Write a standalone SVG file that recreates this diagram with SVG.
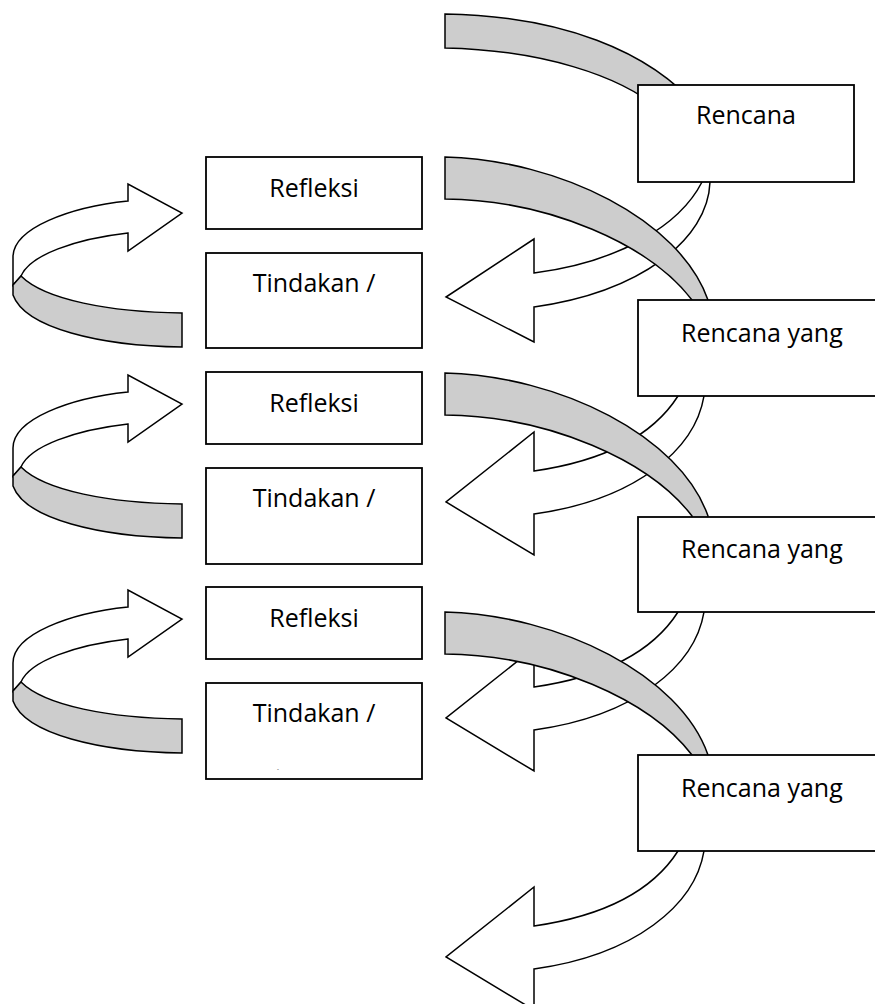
<svg xmlns="http://www.w3.org/2000/svg" width="875" height="1004" viewBox="0 0 875 1004">
<style>
.box{fill:#fff;stroke:#000;stroke-width:1.8}
.band{fill:#cdcdcd;stroke:#000;stroke-width:1.5}
.arr{fill:#fff;stroke:#000;stroke-width:1.5}
text{font-family:"Open Sans","Liberation Sans",sans-serif;font-size:25px;fill:#000}
</style>
<defs>
<g id="loop">
 <path class="arr" d="M128,201 C70,207 13,228 13,257 L13,285 L21,276 C30,255 75,239 128,233 L128,251 L182,213 L128,184 Z"/>
 <path class="band" d="M21,276 C45,300 110,312 182,313 L182,347 C100,346 25,328 13,295 L13,285 Z"/>
</g>
<g id="cyc">
 <path class="arr" d="M678,396 C655,432 610,460 534,471 L534,432 L446,502 L534,555 L534,514 C635,500 695,450 704,396 L706,380 L680,380 Z"/>
 <path class="band" d="M445,157 C560,160 680,220 708,300 L712,330 L696,330 L692,300 C650,245 550,200 445,199 Z"/>
</g>
</defs>
<g id="connectors">
 <use href="#loop"/>
 <use href="#loop" transform="translate(0,191)"/>
 <use href="#loop" transform="translate(0,406)"/>
 <g id="cycle-a">
  <path class="band" d="M445,14 C560,16 650,50 700,110 L660,110 C620,75 540,50 445,48 Z"/>
  <path class="arr" d="M702,182 C680,225 620,262 534,273 L534,239 L446,297 L534,342 L534,307 C640,292 708,240 710,182 L710,170 L702,170 Z"/>
 </g>
 <use href="#cyc"/>
 <use href="#cyc" transform="translate(0,216)"/>
 <use href="#cyc" transform="translate(0,455)"/>
</g>
<g id="rencana">
 <rect class="box" x="638" y="85" width="216" height="97"/>
 <text x="746" y="124" text-anchor="middle">Rencana</text>
</g>
<g id="rencana-yang-1">
 <rect class="box" x="638" y="300" width="250" height="96"/>
 <text x="681" y="342">Rencana yang</text>
</g>
<g id="rencana-yang-2">
 <rect class="box" x="638" y="517" width="250" height="95"/>
 <text x="681" y="558">Rencana yang</text>
</g>
<g id="rencana-yang-3">
 <rect class="box" x="638" y="755" width="250" height="96"/>
 <text x="681" y="797">Rencana yang</text>
</g>
<g id="refleksi-1">
 <rect class="box" x="206" y="157" width="216" height="72"/>
 <text x="314" y="197" text-anchor="middle">Refleksi</text>
</g>
<g id="tindakan-1">
 <rect class="box" x="206" y="253" width="216" height="95"/>
 <text x="314" y="292" text-anchor="middle">Tindakan /</text>
</g>
<g id="refleksi-2">
 <rect class="box" x="206" y="372" width="216" height="72"/>
 <text x="314" y="412" text-anchor="middle">Refleksi</text>
</g>
<g id="tindakan-2">
 <rect class="box" x="206" y="468" width="216" height="96"/>
 <text x="314" y="507" text-anchor="middle">Tindakan /</text>
</g>
<g id="refleksi-3">
 <rect class="box" x="206" y="587" width="216" height="72"/>
 <text x="314" y="627" text-anchor="middle">Refleksi</text>
</g>
<g id="tindakan-3">
 <rect class="box" x="206" y="683" width="216" height="96"/>
 <text x="314" y="722" text-anchor="middle">Tindakan /</text>
 <text x="277" y="771" style="font-size:6px">-</text>
</g>
</svg>
